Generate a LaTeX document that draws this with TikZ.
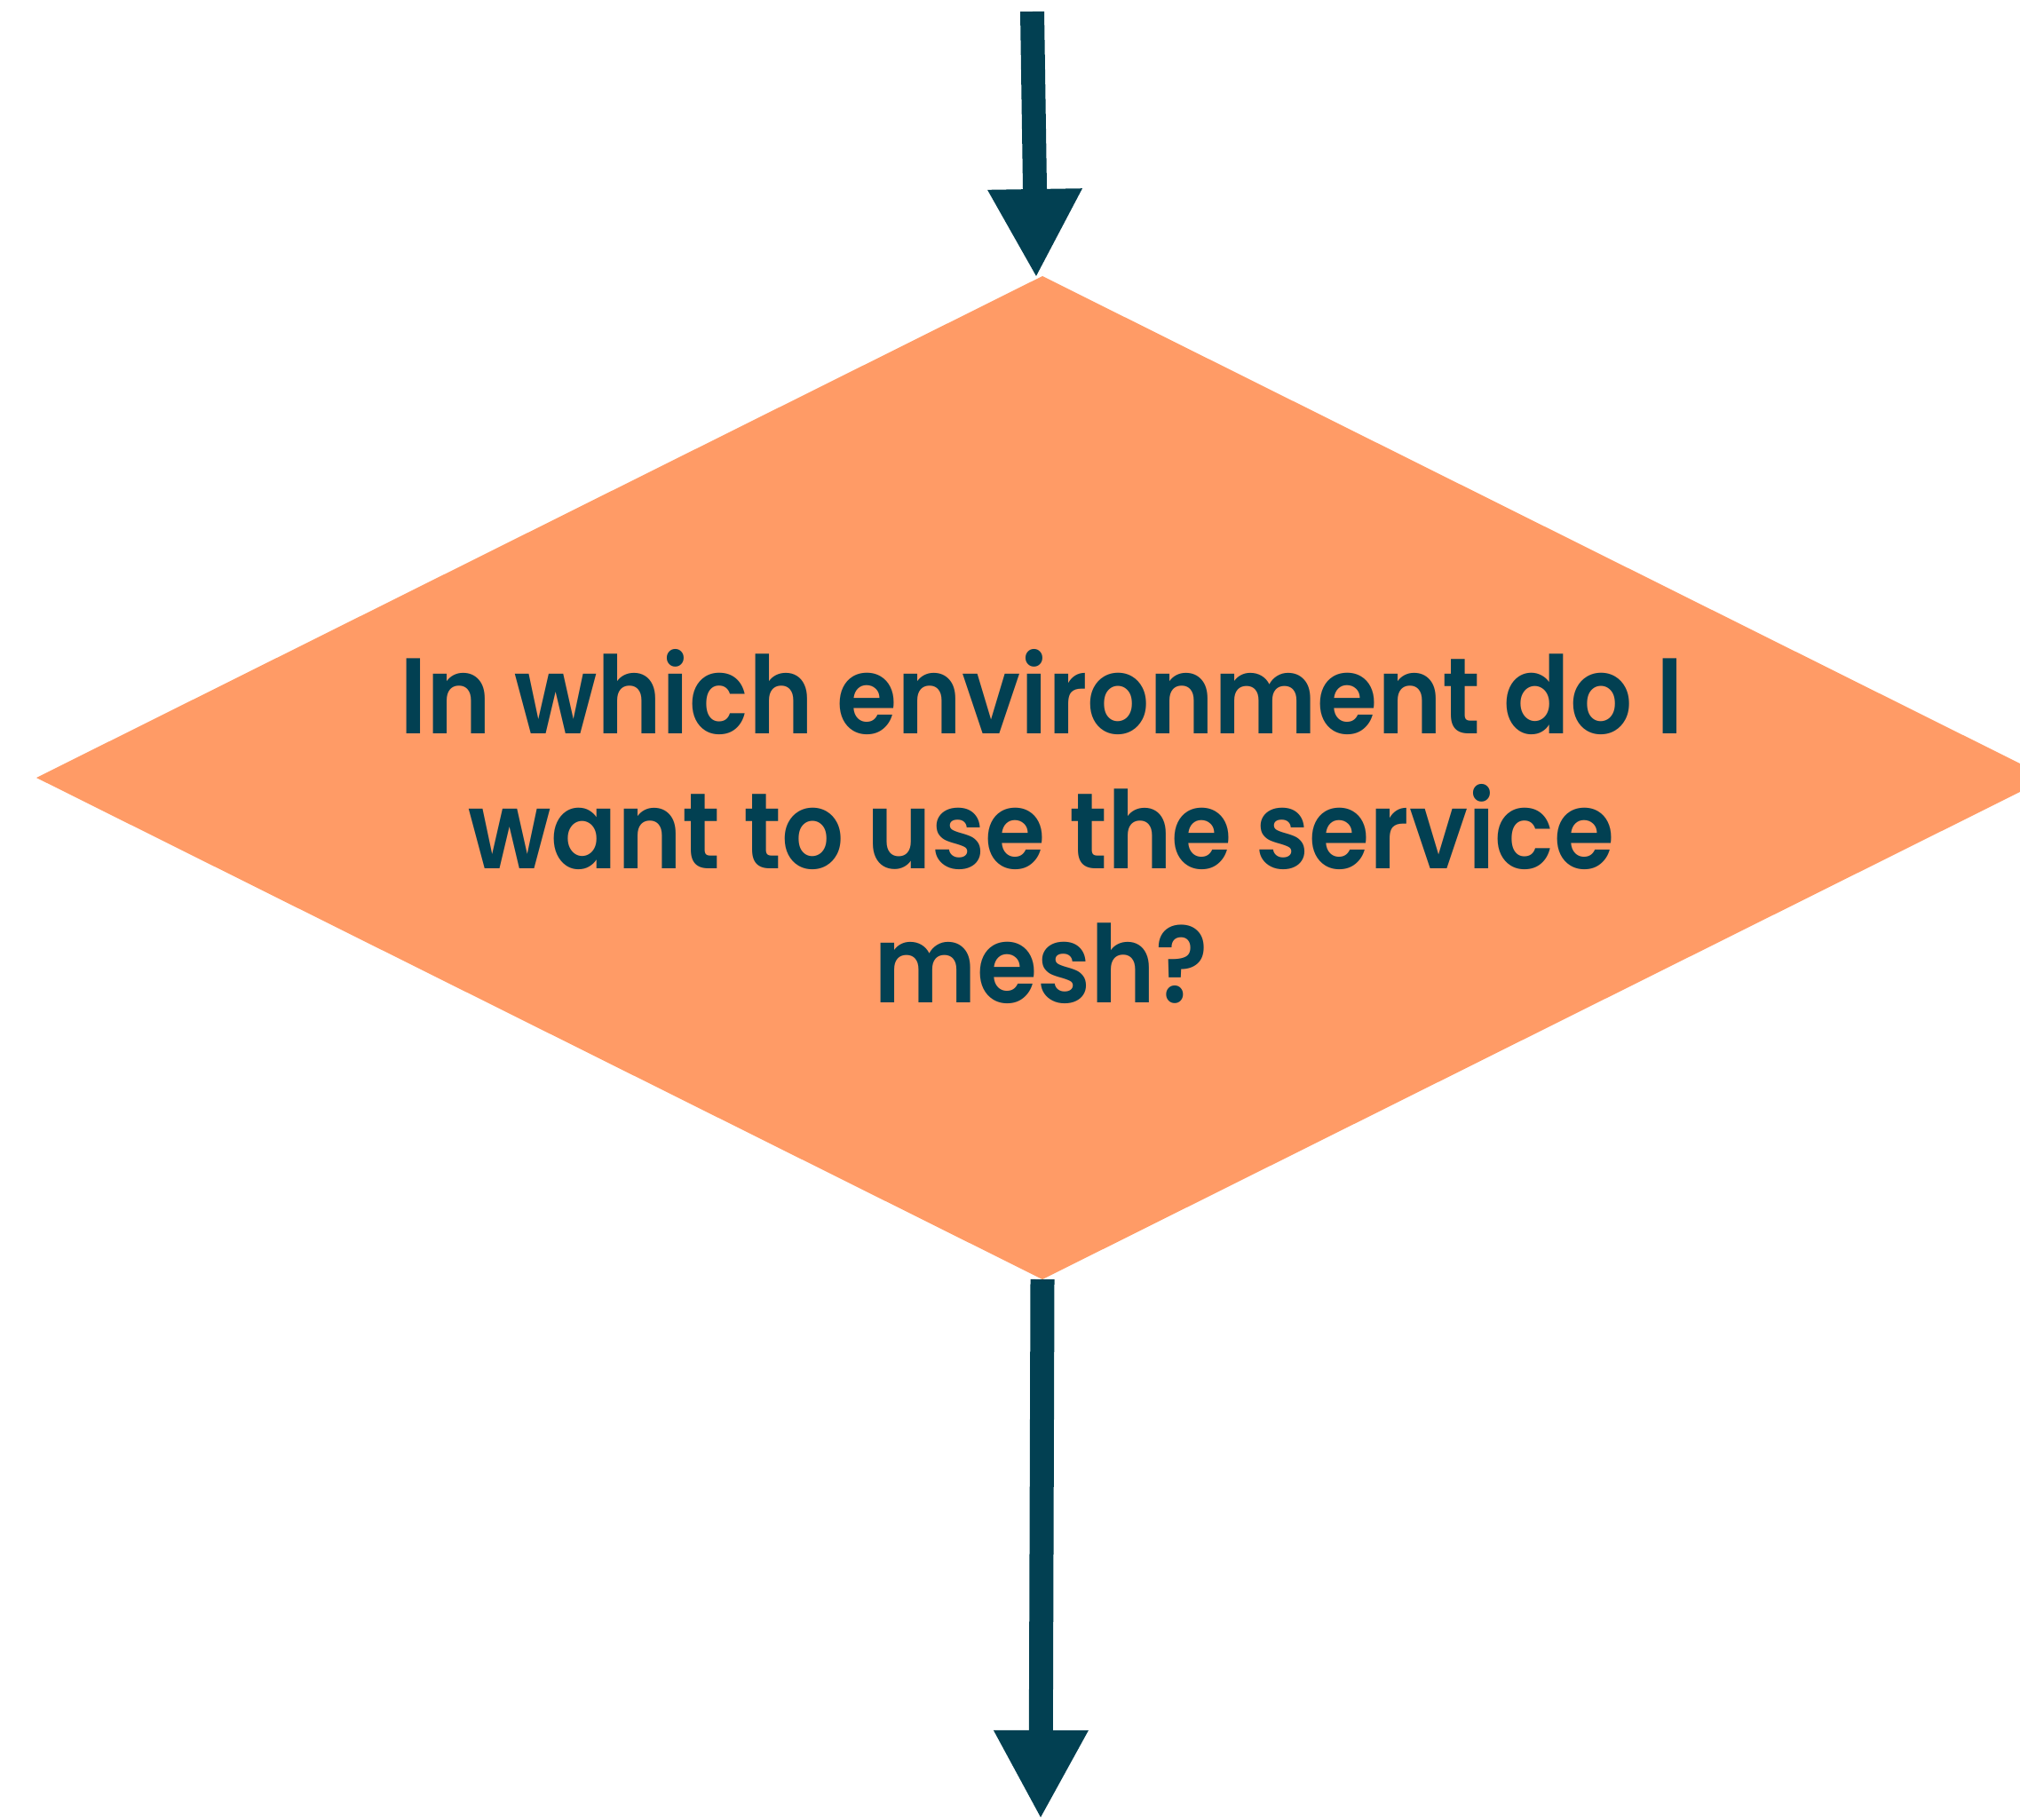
\documentclass[tikz,border=0pt]{standalone}
\usepackage{fontspec}
\setmainfont{Poppins}[BoldFont=Poppins SemiBold,BoldFeatures={FakeStretch=0.91}]
\usetikzlibrary{arrows.meta,positioning,shapes.geometric}
\definecolor{deepteal}{RGB}{2,64,82}
\definecolor{softorange}{RGB}{255,155,102}
\tikzset{
    decision/.style={diamond,fill=softorange,draw=none,inner sep=0pt,outer sep=0pt,minimum width=22.66cm,minimum height=11.30cm},
    question text/.style={text=deepteal,font=\fontsize{34.5}{43.2}\selectfont\bfseries,align=center},
    flow arr/.style={-{Triangle[width=0.99cm,length=1.0cm]},line width=0.27cm,deepteal},
}

\begin{document}
\begin{tikzpicture}
        \useasboundingbox (0,0) rectangle (22.75,-20.49);
        \coordinate (in) at (11.625,-0.13);
        \coordinate (out) at (11.72,-20.49);

        \node[decision] (question) at (11.74,-8.76) {};
        \node[question text] (question label) at (11.73,-9.31)
            {In which environment do I\\want to use the service\\mesh?};

        % arrows into and out of the decision
        \draw[flow arr] (in) -- ([xshift=-0.7mm,yshift=-0.2mm]question.north);
        \draw[flow arr] (question.south) -- (out);
    \end{tikzpicture}
\end{document}
